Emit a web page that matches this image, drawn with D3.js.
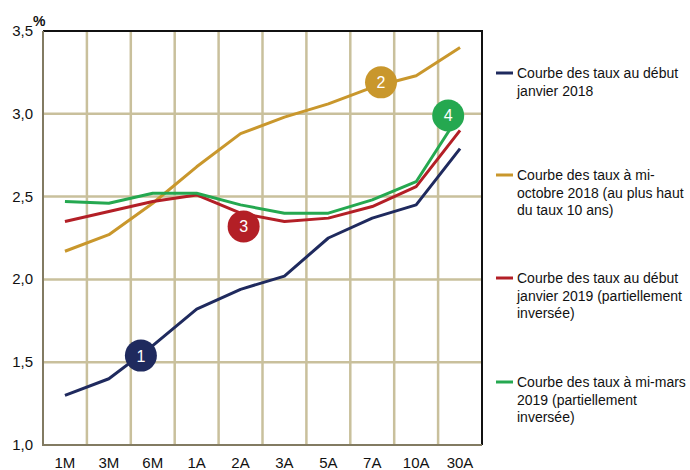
<!DOCTYPE html>
<html>
<head>
<meta charset="utf-8">
<script src="https://cdn.jsdelivr.net/npm/d3@7"></script>
<style>
  html, body { margin: 0; padding: 0; background: #fff; }
  svg { display: block; font-family: "Liberation Sans", Arial, Helvetica, sans-serif; }
</style>
</head>
<body>
<svg id="chart" width="690" height="470"></svg>
<script>
// Maturities on the x axis
const maturities = ["1M", "3M", "6M", "1A", "2A", "3A", "5A", "7A", "10A", "30A"];

// Yield curves (%)
const curveJan2018 = [1.30, 1.40, 1.60, 1.82, 1.94, 2.02, 2.25, 2.37, 2.45, 2.79];
const curveOct2018 = [2.17, 2.27, 2.46, 2.68, 2.88, 2.98, 3.06, 3.16, 3.23, 3.40];
const curveJan2019 = [2.35, 2.41, 2.47, 2.51, 2.40, 2.35, 2.37, 2.44, 2.56, 2.90];
const curveMar2019 = [2.47, 2.46, 2.52, 2.52, 2.45, 2.40, 2.40, 2.48, 2.59, 3.00];

// Y axis ticks
const yTicks = [1.0, 1.5, 2.0, 2.5, 3.0, 3.5];

// Legend labels (wrapped lines)
const legendLabels = [
  ["Courbe des taux au début", "janvier 2018"],
  ["Courbe des taux à mi-", "octobre 2018 (au plus haut", "du taux 10 ans)"],
  ["Courbe des taux au début", "janvier 2019 (partiellement", "inversée)"],
  ["Courbe des taux à mi-mars", "2019 (partiellement", "inversée)"]
];
const seriesColors = ["#1f2a5e", "#c9972c", "#b31f26", "#25a850"];

// Numbered markers: series index, category index, value position
const markerLabels = ["1", "2", "3", "4"];
const markerCats = ["6M", "7A", "2A", "30A"];
const markerValues = [1.54, 3.19, 2.32, 2.99];
const markerShift = [-0.27, 0.2, 0.07, -0.27]; // fraction of a band

const series = [curveJan2018, curveOct2018, curveJan2019, curveMar2019];

const svg = d3.select("#chart");
const plot = { left: 43, right: 482, top: 31, bottom: 445 };

const x = d3.scaleBand().domain(maturities).range([plot.left, plot.right]).padding(0);
const y = d3.scaleLinear().domain([1.0, 3.5]).range([plot.bottom, plot.top]);

const grid = "#c9c09c";

// Vertical grid lines at band boundaries
svg.append("g").selectAll("line")
  .data(maturities.slice(1))
  .join("line")
  .attr("x1", d => x(d)).attr("x2", d => x(d))
  .attr("y1", plot.top).attr("y2", plot.bottom)
  .attr("stroke", grid).attr("stroke-width", 2.5);

// Horizontal grid lines
svg.append("g").selectAll("line")
  .data(yTicks.slice(1, -1))
  .join("line")
  .attr("x1", plot.left).attr("x2", plot.right)
  .attr("y1", d => y(d)).attr("y2", d => y(d))
  .attr("stroke", grid).attr("stroke-width", 2.5);

// Frame: black top/right, olive left/bottom
svg.append("line").attr("x1", plot.left).attr("x2", plot.right + 1)
  .attr("y1", plot.top).attr("y2", plot.top)
  .attr("stroke", "#111").attr("stroke-width", 2);
svg.append("line").attr("x1", plot.right).attr("x2", plot.right)
  .attr("y1", plot.top).attr("y2", plot.bottom)
  .attr("stroke", "#111").attr("stroke-width", 2);
svg.append("line").attr("x1", plot.left).attr("x2", plot.left)
  .attr("y1", plot.top).attr("y2", plot.bottom + 1)
  .attr("stroke", "#827b62").attr("stroke-width", 2);
svg.append("line").attr("x1", plot.left).attr("x2", plot.right)
  .attr("y1", plot.bottom).attr("y2", plot.bottom)
  .attr("stroke", "#827b62").attr("stroke-width", 2);

// Y axis labels
svg.append("g").selectAll("text")
  .data(yTicks)
  .join("text")
  .attr("x", 33).attr("y", d => y(d) + 5)
  .attr("text-anchor", "end")
  .attr("font-size", 15).attr("fill", "#111")
  .text(d => d3.format(".1f")(d).replace(".", ","));
svg.append("text").attr("x", 33).attr("y", 26)
  .attr("font-size", 14).attr("font-weight", "bold").attr("fill", "#111")
  .text("%");

// X axis labels
svg.append("g").selectAll("text")
  .data(maturities)
  .join("text")
  .attr("x", d => x(d) + x.bandwidth() / 2).attr("y", 468)
  .attr("text-anchor", "middle")
  .attr("font-size", 15).attr("fill", "#111")
  .text(d => d);

// Curves
const line = d3.line()
  .x((d, i) => x(maturities[i]) + x.bandwidth() / 2)
  .y(d => y(d));

svg.append("g").selectAll("path")
  .data(series)
  .join("path")
  .attr("d", d => line(d))
  .attr("fill", "none")
  .attr("stroke", (d, i) => seriesColors[i])
  .attr("stroke-width", 3)
  .attr("stroke-linejoin", "round");

// Numbered markers
const markers = svg.append("g").selectAll("g")
  .data(markerLabels)
  .join("g")
  .attr("transform", (d, i) =>
    `translate(${x(markerCats[i]) + x.bandwidth() * (0.5 + markerShift[i])},${y(markerValues[i])})`);
markers.append("circle").attr("r", 16).attr("fill", (d, i) => seriesColors[i]);
markers.append("text")
  .attr("text-anchor", "middle").attr("y", 6)
  .attr("font-size", 16).attr("fill", "#fff")
  .text(d => d);

// Legend
const legendTop = [73, 175, 278, 382];
const legend = svg.append("g").selectAll("g")
  .data(legendLabels)
  .join("g")
  .attr("transform", (d, i) => `translate(496,${legendTop[i]})`);
legend.append("line")
  .attr("x1", 0).attr("x2", 17).attr("y1", 0).attr("y2", 0)
  .attr("stroke", (d, i) => seriesColors[i]).attr("stroke-width", 3);
legend.each(function(lines) {
  d3.select(this).selectAll("text")
    .data(lines)
    .join("text")
    .attr("x", 21).attr("y", (d, j) => 5 + j * 17.5)
    .attr("font-size", 14).attr("fill", "#111")
    .text(d => d);
});
</script>
</body>
</html>
